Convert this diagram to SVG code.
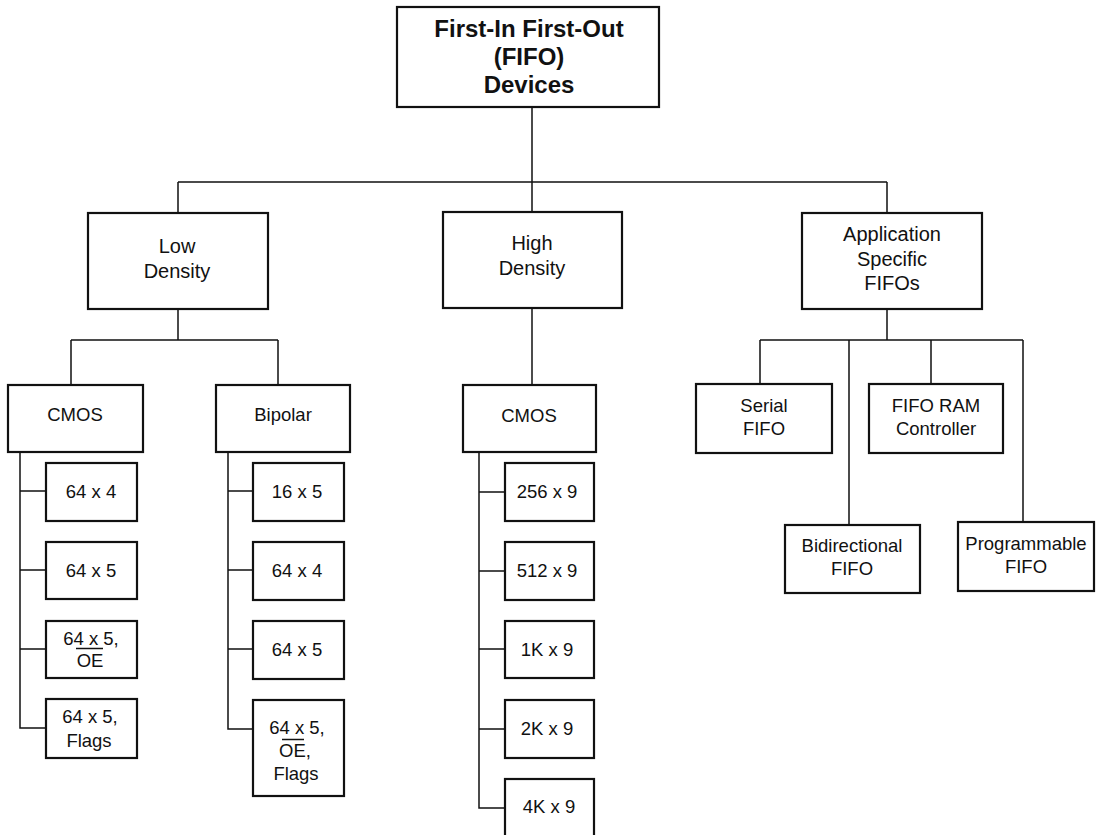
<svg xmlns="http://www.w3.org/2000/svg" width="1101" height="835" viewBox="0 0 1101 835">
<style>
.box{fill:#fff;stroke:#111;stroke-width:2.2}
.ln{fill:none;stroke:#111;stroke-width:1.5}
.ov{stroke:#111;stroke-width:1.5}
text{font-family:"Liberation Sans",Arial,sans-serif;fill:#111;text-anchor:middle}
.t0{font-size:24px;font-weight:bold}
.t1{font-size:20px}
.t2{font-size:18.5px}
</style>
<rect width="1101" height="835" fill="#fff"/>
<g id="connectors">
<path class="ln" d="M532,107V182M178,182H887M178,182V213M532,182V212M887,182V213"/>
<path class="ln" d="M178,309V340M71,340H278M71,340V385M278,340V385"/>
<path class="ln" d="M532,308V385"/>
<path class="ln" d="M887,309V340M760,340H1023M760,340V384M849,340V525M931,340V384M1023,340V522"/>
<path class="ln" d="M20,452V728H46M20,491H46M20,570H46M20,649H46"/>
<path class="ln" d="M228,452V729H253M228,491H253M228,570H253M228,649H253"/>
<path class="ln" d="M479,452V808H505M479,492H505M479,571H505M479,649H505M479,729H505"/>
</g>
<g id="root"><rect class="box" x="397" y="7" width="262" height="100"/>
<text class="t0" x="529" y="37">First-In First-Out</text>
<text class="t0" x="529" y="65">(FIFO)</text>
<text class="t0" x="529" y="93">Devices</text></g>
<g id="low-density"><rect class="box" x="88" y="213" width="180" height="96"/>
<text class="t1" x="177" y="253">Low</text><text class="t1" x="177" y="278">Density</text></g>
<g id="high-density"><rect class="box" x="443" y="212" width="179" height="96"/>
<text class="t1" x="532" y="250">High</text><text class="t1" x="532" y="275">Density</text></g>
<g id="app-specific"><rect class="box" x="802" y="213" width="180" height="96"/>
<text class="t1" x="892" y="241">Application</text><text class="t1" x="892" y="266">Specific</text><text class="t1" x="892" y="290">FIFOs</text></g>
<g id="serial-fifo"><rect class="box" x="696" y="384" width="136" height="69"/>
<text class="t2" x="764" y="412">Serial</text><text class="t2" x="764" y="435">FIFO</text></g>
<g id="fifo-ram-controller"><rect class="box" x="869" y="384" width="134" height="69"/>
<text class="t2" x="936" y="412">FIFO RAM</text><text class="t2" x="936" y="435">Controller</text></g>
<g id="bidirectional-fifo"><rect class="box" x="785" y="525" width="135" height="68"/>
<text class="t2" x="852" y="552">Bidirectional</text><text class="t2" x="852" y="575">FIFO</text></g>
<g id="programmable-fifo"><rect class="box" x="958" y="522" width="136" height="69"/>
<text class="t2" x="1026" y="550">Programmable</text><text class="t2" x="1026" y="573">FIFO</text></g>
<g id="ld-cmos"><rect class="box" x="8" y="385" width="135" height="67"/>
<text class="t2" x="75" y="421">CMOS</text></g>
<g id="ld-bipolar"><rect class="box" x="216" y="385" width="134" height="67"/>
<text class="t2" x="283" y="421">Bipolar</text></g>
<g id="hd-cmos"><rect class="box" x="463" y="385" width="133" height="67"/>
<text class="t2" x="529" y="422">CMOS</text></g>
<g id="c-64x4"><rect class="box" x="46" y="463" width="91" height="58"/><text class="t2" x="91" y="498">64 x 4</text></g>
<g id="c-64x5"><rect class="box" x="46" y="542" width="91" height="57"/><text class="t2" x="91" y="577">64 x 5</text></g>
<g id="c-64x5-oe"><rect class="box" x="46" y="621" width="91" height="57"/><text class="t2" x="91" y="645">64 x 5,</text><text class="t2" x="90" y="667">OE</text><line class="ov" x1="76" y1="648.5" x2="103" y2="648.5"/></g>
<g id="c-64x5-flags"><rect class="box" x="46" y="699" width="91" height="59"/><text class="t2" x="90" y="723">64 x 5,</text><text class="t2" x="89" y="747">Flags</text></g>
<g id="b-16x5"><rect class="box" x="253" y="463" width="91" height="58"/><text class="t2" x="297" y="498">16 x 5</text></g>
<g id="b-64x4"><rect class="box" x="253" y="542" width="91" height="58"/><text class="t2" x="297" y="577">64 x 4</text></g>
<g id="b-64x5"><rect class="box" x="253" y="621" width="91" height="58"/><text class="t2" x="297" y="656">64 x 5</text></g>
<g id="b-64x5-oe-flags"><rect class="box" x="253" y="700" width="91" height="96"/><text class="t2" x="297" y="734">64 x 5,</text><text class="t2" x="295" y="757">OE,</text><text class="t2" x="296" y="780">Flags</text><line class="ov" x1="282" y1="739.5" x2="304" y2="739.5"/></g>
<g id="h-256x9"><rect class="box" x="505" y="463" width="89" height="58"/><text class="t2" x="547" y="498">256 x 9</text></g>
<g id="h-512x9"><rect class="box" x="505" y="542" width="89" height="58"/><text class="t2" x="547" y="577">512 x 9</text></g>
<g id="h-1kx9"><rect class="box" x="505" y="621" width="89" height="57"/><text class="t2" x="547" y="656">1K x 9</text></g>
<g id="h-2kx9"><rect class="box" x="505" y="700" width="89" height="58"/><text class="t2" x="547" y="735">2K x 9</text></g>
<g id="h-4kx9"><rect class="box" x="505" y="779" width="89" height="62"/><text class="t2" x="549" y="813">4K x 9</text></g>
</svg>
